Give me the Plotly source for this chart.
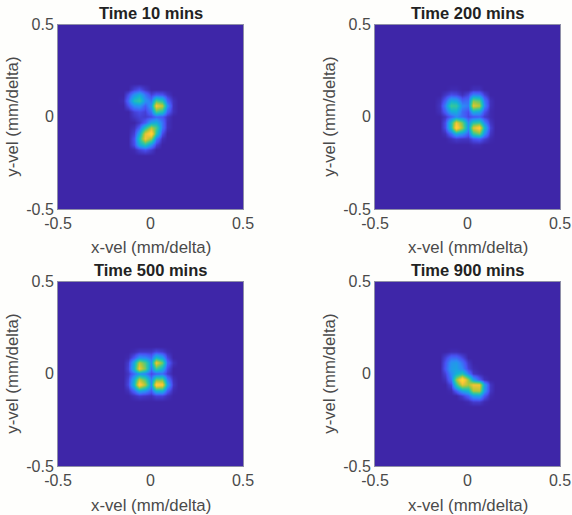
import plotly.graph_objects as go

titles = ["Time 10 mins", "Time 200 mins", "Time 500 mins", "Time 900 mins"]
tick_vals = [-0.5, 0, 0.5]
tick_text = ["-0.5", "0", "0.5"]
x_label = "x-vel (mm/delta)"
y_label = "y-vel (mm/delta)"

vel_x = [-0.5, -0.21, -0.18, -0.15, -0.12, -0.09, -0.06, -0.03, 0, 0.03, 0.06, 0.09, 0.12, 0.15, 0.18, 0.21, 0.5]
vel_y = [-0.5, -0.21, -0.18, -0.15, -0.12, -0.09, -0.06, -0.03, 0, 0.03, 0.06, 0.09, 0.12, 0.15, 0.18, 0.21, 0.5]

# Normalised intensity; rows y=-0.18..0.18, columns x=-0.18..0.18
density_10 = [
    [0, 0, 0, .01, .05, .08, .04, 0, 0, 0, 0, 0, 0],
    [0, 0, 0, .07, .26, .36, .20, .05, 0, 0, 0, 0, 0],
    [0, 0, 0, .08, .36, .72, .55, .16, .02, 0, 0, 0, 0],
    [0, 0, 0, .05, .25, .68, .85, .38, .07, 0, 0, 0, 0],
    [0, 0, 0, .02, .10, .36, .60, .45, .14, .02, 0, 0, 0],
    [0, 0, 0, 0, .03, .10, .25, .28, .14, .02, 0, 0, 0],
    [0, 0, 0, .03, .05, .04, .06, .11, .09, .03, 0, 0, 0],
    [0, 0, 0, .05, .07, .05, .14, .44, .36, .11, .02, 0, 0],
    [0, 0, .07, .18, .20, .10, .22, .74, .62, .20, .02, 0, 0],
    [0, .01, .12, .34, .40, .20, .14, .44, .36, .11, .02, 0, 0],
    [0, 0, .07, .20, .27, .14, .05, .09, .08, .03, 0, 0, 0],
    [0, 0, 0, .05, .08, .03, 0, 0, 0, 0, 0, 0, 0],
    [0, 0, 0, 0, 0, 0, 0, 0, 0, 0, 0, 0, 0],
]
density_200 = [
    [0, 0, 0, 0, 0, 0, 0, 0, 0, 0, 0, 0, 0],
    [0, 0, 0, 0, 0, 0, 0, .01, .01, 0, 0, 0, 0],
    [0, 0, 0, .02, .04, .03, .03, .08, .10, .05, .01, 0, 0],
    [0, 0, .02, .12, .26, .20, .10, .40, .50, .20, .03, 0, 0],
    [0, 0, .07, .36, .84, .56, .20, .66, .80, .32, .05, 0, 0],
    [0, 0, .07, .36, .72, .50, .18, .38, .42, .18, .03, 0, 0],
    [0, 0, .03, .10, .17, .12, .06, .08, .10, .04, .01, 0, 0],
    [0, .02, .10, .25, .27, .12, .07, .28, .24, .08, .01, 0, 0],
    [0, .03, .16, .42, .40, .18, .15, .68, .60, .18, .02, 0, 0],
    [0, .02, .10, .27, .25, .11, .13, .52, .46, .15, .02, 0, 0],
    [0, 0, .03, .07, .06, .02, .06, .16, .15, .05, 0, 0, 0],
    [0, 0, 0, .01, .01, 0, 0, .02, .02, 0, 0, 0, 0],
    [0, 0, 0, 0, 0, 0, 0, 0, 0, 0, 0, 0, 0],
]
density_500 = [
    [0, 0, 0, 0, 0, 0, 0, 0, 0, 0, 0, 0, 0],
    [0, 0, 0, 0, 0, 0, 0, 0, 0, 0, 0, 0, 0],
    [0, 0, 0, .02, .04, .03, .02, .05, .05, .02, 0, 0, 0],
    [0, 0, .02, .12, .26, .20, .10, .30, .30, .10, .01, 0, 0],
    [0, 0, .06, .33, .82, .58, .20, .82, .76, .25, .03, 0, 0],
    [0, 0, .05, .28, .62, .45, .16, .50, .50, .16, .02, 0, 0],
    [0, 0, .03, .12, .20, .16, .06, .10, .12, .04, 0, 0, 0],
    [0, 0, .05, .30, .72, .50, .14, .42, .28, .07, 0, 0, 0],
    [0, 0, .04, .27, .60, .45, .20, .72, .50, .12, .02, 0, 0],
    [0, 0, .01, .09, .20, .18, .12, .32, .24, .06, 0, 0, 0],
    [0, 0, 0, .01, .03, .03, .03, .06, .04, .01, 0, 0, 0],
    [0, 0, 0, 0, 0, 0, 0, 0, 0, 0, 0, 0, 0],
    [0, 0, 0, 0, 0, 0, 0, 0, 0, 0, 0, 0, 0],
]
density_900 = [
    [0, 0, 0, 0, 0, 0, 0, 0, 0, 0, 0, 0, 0],
    [0, 0, 0, 0, 0, 0, .01, .04, .04, .01, 0, 0, 0],
    [0, 0, 0, 0, 0, .04, .11, .22, .24, .09, .01, 0, 0],
    [0, 0, 0, .01, .10, .24, .31, .58, .60, .22, .03, 0, 0],
    [0, 0, 0, .06, .38, .68, .58, .72, .72, .24, .03, 0, 0],
    [0, 0, .02, .14, .55, .88, .55, .24, .10, .02, 0, 0, 0],
    [0, 0, .05, .18, .28, .36, .16, .03, .01, 0, 0, 0, 0],
    [0, 0, .09, .22, .24, .17, .05, .01, 0, 0, 0, 0, 0],
    [0, 0, .08, .20, .22, .13, .03, 0, 0, 0, 0, 0, 0],
    [0, 0, .05, .12, .12, .06, 0, 0, 0, 0, 0, 0, 0],
    [0, 0, 0, .01, .01, 0, 0, 0, 0, 0, 0, 0, 0],
    [0, 0, 0, 0, 0, 0, 0, 0, 0, 0, 0, 0, 0],
    [0, 0, 0, 0, 0, 0, 0, 0, 0, 0, 0, 0, 0],
]
panels = [density_10, density_200, density_500, density_900]

parula = [
    [0.000, "rgb(62,38,168)"], [0.08, "rgb(72,82,244)"], [0.17, "rgb(46,135,247)"],
    [0.28, "rgb(18,177,214)"], [0.42, "rgb(55,200,151)"], [0.58, "rgb(171,199,57)"],
    [0.74, "rgb(254,195,56)"], [1.000, "rgb(249,251,21)"],
]

W, H = 572, 515
x_doms = [[58 / W, 243 / W], [375 / W, 560 / W]]
y_doms = [[1 - 209 / H, 1 - 24.5 / H], [1 - 466 / H, 1 - 281.5 / H]]
TEXT = "#4a4a4a"
FONT = "Liberation Sans"

def padded(rows):
    blank = [0] * (len(rows[0]) + 4)
    body = [[0, 0] + r + [0, 0] for r in rows]
    return [blank, blank] + body + [blank, blank]

fig = go.Figure()
layout = dict(
    width=W, height=H, margin=dict(l=0, r=0, t=0, b=0), autosize=False,
    paper_bgcolor="#fefefc", plot_bgcolor="rgb(62,38,168)", showlegend=False,
    font=dict(family=FONT, size=16, color=TEXT), annotations=[],
)
for i, rows in enumerate(panels):
    n = i + 1
    sfx = "" if n == 1 else str(n)
    col, row = i % 2, i // 2
    fig.add_trace(go.Heatmap(
        x=vel_x, y=vel_y, z=padded(rows), zmin=0, zmax=1, zsmooth="best",
        colorscale=parula, showscale=False, xaxis="x" + sfx, yaxis="y" + sfx,
    ))
    common = dict(
        range=[-0.5, 0.5], tickmode="array", tickvals=tick_vals, ticktext=tick_text,
        ticks="", showgrid=False, zeroline=False, showline=True, linecolor="#8f8fa8",
        linewidth=1, mirror=True, automargin=False,
        tickfont=dict(family=FONT, size=16, color=TEXT),
    )
    layout["xaxis" + sfx] = dict(common, domain=x_doms[col], anchor="y" + sfx)
    layout["yaxis" + sfx] = dict(common, domain=y_doms[row], anchor="x" + sfx)
    cx = sum(x_doms[col]) / 2
    layout["annotations"].append(dict(
        text="<b>" + titles[i] + "</b>", xref="paper", yref="paper",
        x=cx, y=y_doms[row][1], yanchor="bottom", xanchor="center",
        yshift=1, showarrow=False, font=dict(family=FONT, size=16.5, color="#222222"),
    ))
    layout["annotations"].append(dict(
        text=x_label, xref="paper", yref="paper", x=cx, y=y_doms[row][0],
        yanchor="middle", xanchor="center", yshift=-39, showarrow=False,
        font=dict(family=FONT, size=16.8, color=TEXT),
    ))
    layout["annotations"].append(dict(
        text=y_label, xref="paper", yref="paper", x=x_doms[col][0],
        y=sum(y_doms[row]) / 2, yanchor="middle", xanchor="center", xshift=-45,
        textangle=-90, showarrow=False, font=dict(family=FONT, size=16.8, color=TEXT),
    ))
fig.update_layout(**layout)
fig.write_html(
    "out.html",
    config={"displayModeBar": False},
    post_script="document.body.style.margin='0';document.body.style.overflow='hidden';",
)
